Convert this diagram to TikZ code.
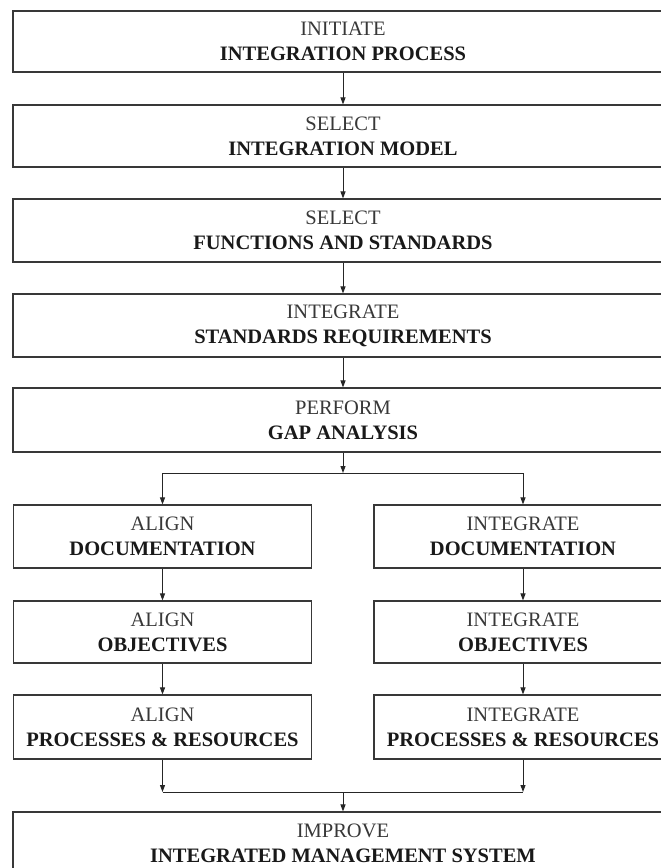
\documentclass[tikz,border=0pt]{standalone}
\usepackage{fontspec}
\setmainfont{Liberation Serif}
\usetikzlibrary{arrows.meta,calc}

% verb line in regular weight, object line in bold
\newcommand{\steptext}[2]{{\color{black!78}#1}\\{\color{black!90}\bfseries #2}}

\tikzset{
  stepbox/.style={draw=black!78, line width=1.1pt, fill=white, align=center,
    inner sep=0pt, font=\fontsize{20.5}{25}\selectfont},
  widebox/.style={stepbox, minimum width=660pt, minimum height=62pt},
  colbox/.style={stepbox, minimum width=298pt, minimum height=63pt},
  flow/.style={draw=black!85, line width=1pt,
    -{Triangle[length=7pt,width=5pt]}},
  link/.style={draw=black!85, line width=1pt}
}

\begin{document}
\begin{tikzpicture}[x=1pt, y=-1pt]
  % page frame; boxes run off the right and bottom edges
  \path[fill=white] (0,0) rectangle (661,868);
  \clip (0,0) rectangle (661,868);

  % main sequence
  \node[widebox, minimum height=61pt] (init) at (343,41.5)
    {\steptext{INITIATE}{INTEGRATION PROCESS}};
  \node[widebox] (model) at (343,136)
    {\steptext{SELECT}{INTEGRATION MODEL}};
  \node[widebox, minimum height=63pt] (func) at (343,230.5)
    {\steptext{SELECT}{FUNCTIONS AND STANDARDS}};
  \node[widebox, minimum height=63pt] (req) at (343,325.5)
    {\steptext{INTEGRATE}{STANDARDS REQUIREMENTS}};
  \node[widebox, minimum height=64pt] (gap) at (343,420)
    {\steptext{PERFORM}{GAP ANALYSIS}};

  % left branch
  \node[colbox] (adoc) at (162.5,536.5) {\steptext{ALIGN}{DOCUMENTATION}};
  \node[colbox, minimum height=62pt] (aobj) at (162.5,632) {\steptext{ALIGN}{OBJECTIVES}};
  \node[colbox, minimum height=64pt] (aproc) at (162.5,727) {\steptext{ALIGN}{PROCESSES \& RESOURCES}};

  % right branch
  \node[colbox] (idoc) at (523,536.5) {\steptext{INTEGRATE}{DOCUMENTATION}};
  \node[colbox, minimum height=62pt] (iobj) at (523,632) {\steptext{INTEGRATE}{OBJECTIVES}};
  \node[colbox, minimum height=64pt] (iproc) at (523,727) {\steptext{INTEGRATE}{PROCESSES \& RESOURCES}};

  % final step
  \node[widebox] (imp) at (343,843)
    {\steptext{IMPROVE}{INTEGRATED MANAGEMENT SYSTEM}};

  % straight connectors
  \draw[flow] (init) -- (model);
  \draw[flow] (model) -- (func);
  \draw[flow] (func) -- (req);
  \draw[flow] (req) -- (gap);
  \draw[flow] (adoc) -- (aobj);
  \draw[flow] (aobj) -- (aproc);
  \draw[flow] (idoc) -- (iobj);
  \draw[flow] (iobj) -- (iproc);

  % split after the gap analysis
  \coordinate (split) at (gap.south |- 0,473);
  \coordinate (splitL) at (adoc.north |- split);
  \coordinate (splitR) at (idoc.north |- split);
  \draw[flow] (gap.south) -- (split);
  \draw[link] (splitL) -- (splitR);
  \draw[flow] (splitL) -- (adoc.north);
  \draw[flow] (splitR) -- (idoc.north);

  % merge before the final step
  \coordinate (merge) at (imp.north |- 0,792);
  \coordinate (mergeL) at (aproc.south |- merge);
  \coordinate (mergeR) at (iproc.south |- merge);
  \draw[flow] (aproc.south) -- (mergeL);
  \draw[flow] (iproc.south) -- (mergeR);
  \draw[link] (mergeL) -- (mergeR);
  \draw[flow] (merge) -- (imp.north);
\end{tikzpicture}
\end{document}
